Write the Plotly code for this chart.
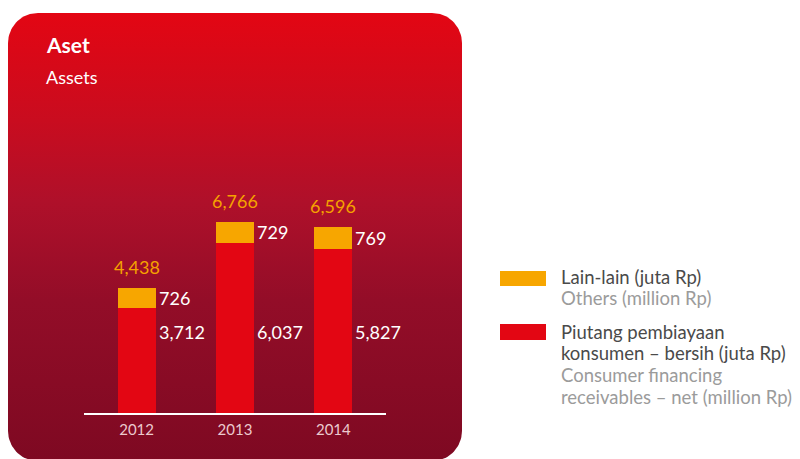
import numpy as np
import plotly.graph_objects as go

# ---------------- data ----------------
years = ["2012", "2013", "2014"]
receivables = [3712, 6037, 5827]   # Piutang pembiayaan konsumen – bersih
others = [726, 729, 769]           # Lain-lain
totals = [4438, 6766, 6596]

title_id = "Aset"
title_en = "Assets"
legend_others = ["Lain-lain (juta Rp)", "Others (million Rp)"]
legend_recv = ["Piutang pembiayaan", "konsumen – bersih (juta Rp)",
               "Consumer financing", "receivables – net (million Rp)"]

# ---------------- style ----------------
W, H = 800, 459
FONT = "Lato"
RED = "#e30613"
ORANGE = "#f7a600"
ORANGE_TXT = "#f5a200"
WHITE = "#ffffff"
DARK_TXT = "#4a4a4a"
LIGHT_TXT = "#9b9b9b"

def py(ypix):  # pixel-from-top -> paper
    return (H - ypix) / H

def px(xpix):
    return xpix / W

# rounded panel outline (background decoration, pixel coords on a hidden axis)
L, R, T, B, rad = 8, 462, 13, 461, 30
def arc(cx, cy, a0, a1, n=24):
    a = np.linspace(a0, a1, n)
    return cx + rad * np.cos(a), cy + rad * np.sin(a)
xs, ys = [], []
for (cx, cy, a0, a1) in [(L + rad, T + rad, np.pi, 1.5 * np.pi),
                         (R - rad, T + rad, 1.5 * np.pi, 2 * np.pi),
                         (R - rad, B - rad, 0, 0.5 * np.pi),
                         (L + rad, B - rad, 0.5 * np.pi, np.pi)]:
    ax_, ay_ = arc(cx, cy, a0, a1)
    xs += list(ax_)
    ys += list(ay_)
xs.append(xs[0]); ys.append(ys[0])
ys_up = [H - v for v in ys]

fig = go.Figure()

fig.add_trace(go.Scatter(
    x=xs, y=ys_up, mode="lines", line=dict(width=0, color="rgba(0,0,0,0)"),
    fill="toself",
    fillgradient=dict(type="vertical", start=H - B, stop=H - T,
                      colorscale=[[0.0, "#7e0922"], [0.357, "#930d28"],
                                  [0.58, "#af102a"], [0.76, "#c90c1f"],
                                  [1.0, "#e30613"]]),
    hoverinfo="skip", showlegend=False, xaxis="x", yaxis="y"))

fig.add_trace(go.Bar(x=years, y=receivables, marker=dict(color=RED, line=dict(width=0)),
                     name=legend_recv[0], xaxis="x2", yaxis="y2", showlegend=False))
fig.add_trace(go.Bar(x=years, y=others, marker=dict(color=ORANGE, line=dict(width=0)),
                     name=legend_others[0], xaxis="x2", yaxis="y2", showlegend=False))

ann = []
# title
ann.append(dict(text="<b>" + title_id + "</b>", x=px(44), y=py(45), xref="paper", yref="paper",
                xanchor="left", yanchor="middle", showarrow=False,
                font=dict(family=FONT, size=21, color=WHITE)))
ann.append(dict(text=title_en, x=px(44), y=py(77), xref="paper", yref="paper",
                xanchor="left", yanchor="middle", showarrow=False,
                font=dict(family=FONT, size=18, color=WHITE)))

RED_LABEL_Y = py(332)
for i, (yr, rv, ot, tot) in enumerate(zip(years, receivables, others, totals)):
    ann.append(dict(text=f"{tot:,}", x=i, y=tot, xref="x2", yref="y2",
                    xanchor="center", yanchor="middle", yshift=21, showarrow=False,
                    font=dict(family=FONT, size=18, color=ORANGE_TXT)))
    ann.append(dict(text=f"{ot:,}", x=i, y=rv + ot / 2, xref="x2", yref="y2",
                    xanchor="left", yanchor="middle", xshift=20, showarrow=False,
                    font=dict(family=FONT, size=18, color=WHITE)))
    ann.append(dict(text=f"{rv:,}", x=i, y=RED_LABEL_Y, xref="x2", yref="paper",
                    xanchor="left", yanchor="middle", xshift=20, showarrow=False,
                    font=dict(family=FONT, size=18, color=WHITE)))

# legend (custom)
shapes = [
    dict(type="rect", xref="paper", yref="paper", x0=px(500), x1=px(546),
         y0=py(286), y1=py(271), fillcolor=ORANGE, line=dict(width=0)),
    dict(type="rect", xref="paper", yref="paper", x0=px(500), x1=px(546),
         y0=py(340), y1=py(324), fillcolor=RED, line=dict(width=0)),
]
leg_lines = [(legend_others[0], DARK_TXT, 277), (legend_others[1], LIGHT_TXT, 298),
             (legend_recv[0], DARK_TXT, 332), (legend_recv[1], DARK_TXT, 353),
             (legend_recv[2], LIGHT_TXT, 375), (legend_recv[3], LIGHT_TXT, 397)]
for t, c, yp in leg_lines:
    ann.append(dict(text=t, x=px(559), y=py(yp), xref="paper", yref="paper",
                    xanchor="left", yanchor="middle", showarrow=False,
                    font=dict(family=FONT, size=18.5, color=c)))

y_bottom = 413
scale = 191 / 6766
ymax = 7000
y_top_pix = y_bottom - ymax * scale

fig.update_layout(
    width=W, height=H, margin=dict(l=0, r=0, t=0, b=0),
    paper_bgcolor="white", plot_bgcolor="rgba(0,0,0,0)",
    barmode="stack", bargap=0.614,
    xaxis=dict(domain=[0, 1], range=[0, W], visible=False, fixedrange=True),
    yaxis=dict(domain=[0, 1], range=[0, H], visible=False, fixedrange=True),
    xaxis2=dict(domain=[px(84), px(386)], anchor="y2", range=[-0.535, 2.535],
                type="category", showline=True, linecolor=WHITE, linewidth=2,
                showgrid=False, zeroline=False, ticks="",
                tickfont=dict(family=FONT, size=15, color="#ecc9ce"),
                ticklabelstandoff=2),
    yaxis2=dict(domain=[py(y_bottom), py(y_top_pix)], anchor="x2", range=[0, ymax],
                visible=False, showgrid=False, zeroline=False),
    annotations=ann, shapes=shapes,
    font=dict(family=FONT),
)

fig.write_html("out.html")
